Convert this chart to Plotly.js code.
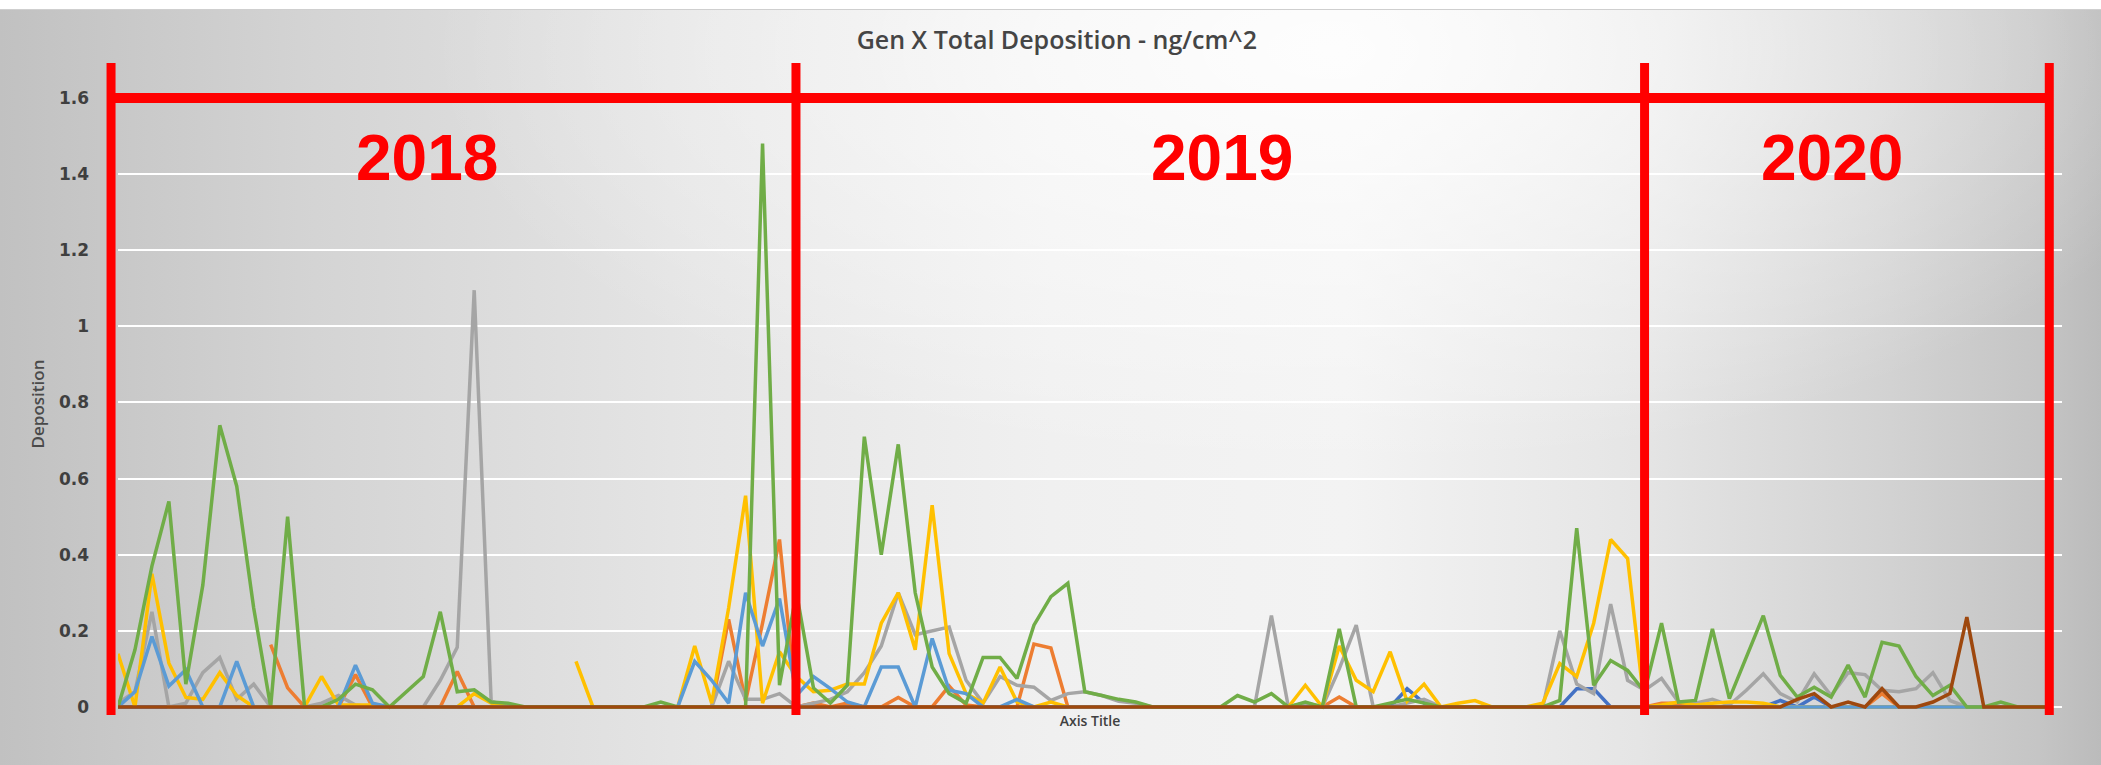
<!DOCTYPE html>
<html><head><meta charset="utf-8">
<script src="https://cdn.plot.ly/plotly-3.0.1.min.js"></script>
<style>
html,body{margin:0;padding:0;background:#fff;}
#wrap{position:relative;width:2101px;height:765px;overflow:hidden;background:#fff;}
#bg{position:absolute;left:0;top:9px;width:2101px;height:756px;border-top:1px solid #cfcfcf;
 background:
  radial-gradient(ellipse 900px 420px at 1330px 40px, rgba(255,255,255,0.85), rgba(255,255,255,0) 100%),
  linear-gradient(to right, #c1c1c1 0%, #d4d4d4 15%, #e5e5e5 33%, #f0f0f0 50%, #f3f3f3 64%, #e5e5e5 78%, #d2d2d2 90%, #c5c5c5 97%, #bbbbbb 100%);}
#chart{position:absolute;left:0;top:0;width:2101px;height:765px;}
</style></head>
<body><div id="wrap"><div id="bg"></div><div id="chart"></div></div>
<script>
// Sample-by-sample deposition values (ng/cm^2), 115 samples, 2018 -> 2020
const darkBlue = [
 0,0,0,0,0,0,0,0,0,0,
 0,0,0,0,0,0,0,0,0,0,
 0,0,0,0,0,0,0,0,0,0,
 0,0,0,0,0,0,0,0,0,0,
 0,0,0,0,0,0,0,0,0,0,
 0,0,0,0,0,0,0,0,0,0,
 0,0,0,0,0,0,0,0,0,0,
 0,0,0,0,0,0,0.048,0.01,0,0,
 0,0,0,0,0,0,0.048,0.048,0,0,
 0,0,0,0,0,0,0,0,0.017,0,
 0.026,0,0,0,0,0,0,0,0,0,
 0,0,0,0,0];
const orange = [
 null,null,null,null,null,null,null,null,null,0.164,
 0.05,0,0,0,0.085,0,0,0,0,0,
 0.093,0,0,0,0,0,0,0,0,0,
 0,0,0,0,0,0,0.23,0.015,0.22,0.44,
 0,0.01,0,0.01,0,0,0.025,0,0,0.055,
 0.005,0,0,0,0.165,0.155,0,0,0,0,
 0,0,0,0,0,0,0,0,0,0,
 0.01,0,0.026,0,0,0,0,0,0,0,
 0,0,0,0,0,0,0,0,0,0,
 0,0.01,0.01,0,0,0,0,0,0,0,
 0,0,0,0,0.035,0,0,0,0,0,
 0,0,0,0,0];
const gray = [
 0.01,0.04,0.25,0,0.01,0.09,0.13,0.02,0.06,0,
 0,0,0.01,0.03,0.005,0,0,0,0,0.07,
 0.157,1.095,0.015,0,0,0,0,0,0,0,
 0,0,0,0,0,0,0.12,0.02,0.02,0.035,
 0,0.01,0.02,0.04,0.09,0.16,0.30,0.19,0.20,0.21,
 0.07,0.01,0.08,0.057,0.052,0.017,0.035,0.04,0.03,0.015,
 0.01,0,0,0,0,0,0,0,0.24,0,
 0.01,0,0.1,0.215,0,0,0.01,0.02,0,0,
 0,0,0,0,0,0.2,0.06,0.035,0.27,0.07,
 0.044,0.075,0.013,0.01,0.02,0.005,0.044,0.087,0.035,0.013,
 0.087,0.03,0.09,0.085,0.044,0.04,0.048,0.09,0.017,0,
 0,0,0,0,0];
const yellow = [
 0.14,0,0.35,0.115,0.025,0.02,0.09,0.03,0,0,
 0,0,0.08,0.005,0.005,0.005,0,0,0,0,
 0,0.035,0.01,0,null,null,null,0.12,0,0,
 0,0,0,0,0.16,0.01,0.26,0.555,0.01,0.145,
 0.08,0.04,0.044,0.06,0.06,0.22,0.30,0.15,0.53,0.14,
 0.035,0.01,0.105,0.013,0,0.013,0,0,0,0,
 0,0,0,0,0,0,0,0,0,0,
 0.057,0,0.16,0.07,0.04,0.145,0.015,0.06,0,0.01,
 0.017,0,0,0,0.01,0.114,0.08,0.22,0.44,0.39,
 0,0.005,0.013,0.005,0.01,0.013,0.013,0.01,0,0,
 0,0,0,0,0,0,0,0,0,0,
 0,0,0,0,0];
const lightBlue = [
 0,0.04,0.185,0.055,0.098,0,0,0.12,0,0,
 0,0,0,0,0.11,0.01,0,0,0,0,
 0,0,0,0,0,0,0,0,0,0,
 0,0,0,0,0.12,0.07,0.01,0.30,0.16,0.285,
 0.03,0.08,0.048,0.013,0,0.105,0.105,0,0.18,0.044,
 0.035,0,0,0.02,0,0,0,0,0,0,
 0,0,0,0,0,0,0,0,0,0,
 0,0,0,0,0,0,0,0,0,0,
 0,0,0,0,0,0,0,0,0,0,
 0,0,0,0,0,0,0,0,0,0,
 0,0,0,0,0,0,0,0,0,0,
 0,0,0,0,0];
const green = [
 0,0.15,0.37,0.54,0.06,0.32,0.74,0.58,0.26,0,
 0.50,0,0,0.02,0.06,0.045,0,0.04,0.08,0.25,
 0.04,0.045,0.013,0.01,0,0,0,0,0,0,
 0,0,0.013,0,0,0,0,0,1.48,0.057,
 0.30,0.05,0.01,0.057,0.71,0.40,0.69,0.30,0.105,0.035,
 0.01,0.13,0.13,0.075,0.215,0.29,0.325,0.04,0.03,0.02,
 0.013,0,0,0,0,0,0.03,0.013,0.035,0,
 0.013,0,0.205,0,0,0.01,0.02,0.01,0,0,
 0,0,0,0,0,0.017,0.47,0.057,0.122,0.096,
 0.04,0.22,0.013,0.017,0.205,0.022,0.13,0.24,0.083,0.026,
 0.052,0.026,0.11,0.026,0.17,0.16,0.08,0.03,0.057,0,
 0,0.013,0,0,0];
const brown = [
 0,0,0,0,0,0,0,0,0,0,
 0,0,0,0,0,0,0,0,0,0,
 0,0,0,0,0,0,0,0,0,0,
 0,0,0,0,0,0,0,0,0,0,
 0,0,0,0,0,0,0,0,0,0,
 0,0,0,0,0,0,0,0,0,0,
 0,0,0,0,0,0,0,0,0,0,
 0,0,0,0,0,0,0,0,0,0,
 0,0,0,0,0,0,0,0,0,0,
 0,0,0,0,0,0,0,0,0,0.02,
 0.035,0,0.013,0,0.048,0,0,0.013,0.035,0.236,
 0,0,0,0,0];

const yearLabels = ['2018', '2019', '2020'];
const yearLabelPos = [18.2, 65.1, 101.05];      // sample index of label centre
const yearBounds = [-0.41, 39.97, 90.0, 113.86]; // sample index of red dividers

const xRange = [0, 114.61];
const yRange = [-0.008, 1.6];

const seriesList = [
  {y: darkBlue, color: '#4472C4'},
  {y: orange, color: '#ED7D31'},
  {y: gray, color: '#A5A5A5'},
  {y: yellow, color: '#FFC000'},
  {y: lightBlue, color: '#5B9BD5'},
  {y: green, color: '#70AD47'},
  {y: brown, color: '#9E480E'}
];

const traces = seriesList.map(s => ({
  type: 'scatter', mode: 'lines', y: s.y,
  line: {color: s.color, width: 3.5},
  hoverinfo: 'skip', connectgaps: false
}));

const px = v => (v - xRange[0]) / (xRange[1] - xRange[0]);
const RED = '#ff0000';
const shapes = [];
shapes.push({type: 'line', xref: 'paper', yref: 'paper',
  x0: px(yearBounds[0]), x1: px(yearBounds[3]), y0: 1, y1: 1,
  line: {color: RED, width: 10}, layer: 'above'});
yearBounds.forEach(b => shapes.push({type: 'line', xref: 'paper', yref: 'paper',
  x0: px(b), x1: px(b), y0: -0.008, y1: 1.057,
  line: {color: RED, width: 9}, layer: 'above'}));

const annotations = yearLabels.map((t, i) => ({
  text: t, x: yearLabelPos[i], y: 1.442, xref: 'x', yref: 'y',
  showarrow: false, xanchor: 'center', yanchor: 'middle',
  font: {family: 'Liberation Sans, Arial, sans-serif', size: 64, color: RED, weight: 'bold'}
}));

const layout = {
  width: 2101, height: 765,
  paper_bgcolor: 'rgba(0,0,0,0)', plot_bgcolor: 'rgba(0,0,0,0)',
  margin: {l: 118, r: 39, t: 98, b: 55, autoexpand: false},
  showlegend: false,
  title: {text: 'Gen X Total Deposition - ng/cm^2', x: 0.503, xref: 'container',
    y: 1 - 40 / 765, yref: 'container', yanchor: 'middle', xanchor: 'center',
    font: {family: 'Open Sans, sans-serif', size: 25, color: '#454545', weight: 600}},
  xaxis: {range: xRange, showgrid: false, zeroline: false, showline: false,
    showticklabels: false, ticks: '', automargin: false,
    title: {text: 'Axis Title', standoff: 6,
      font: {family: 'Open Sans, sans-serif', size: 14, color: '#404040', weight: 600}}},
  yaxis: {range: yRange, tick0: 0, dtick: 0.2, gridcolor: '#ffffff', gridwidth: 2,
    zeroline: false, showline: false, ticks: '', automargin: false,
    ticklabelstandoff: 28,
    tickfont: {family: 'DejaVu Sans, sans-serif', size: 17, color: '#3f3f3f', weight: 'bold'},
    title: {text: 'Deposition', standoff: 9,
      font: {family: 'Open Sans, sans-serif', size: 17, color: '#4a4a4a', weight: 600}}},
  shapes: shapes,
  annotations: annotations
};

Plotly.newPlot('chart', traces, layout, {staticPlot: true, displayModeBar: false});
</script>
</body></html>
